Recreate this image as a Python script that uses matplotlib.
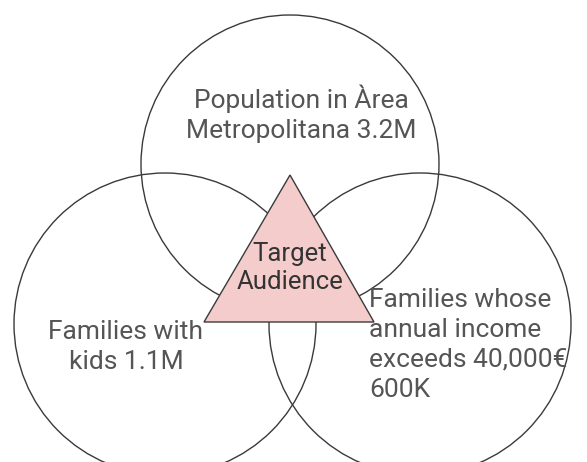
import matplotlib.pyplot as plt
from matplotlib.patches import Circle, Polygon

# labels of the three groups and the overlap
group_labels = [
    "Population in Àrea\nMetropolitana 3.2M",
    "Families with\nkids 1.1M",
    "Families whose\nannual income\nexceeds 40,000€\n600K",
]
center_label = "Target\nAudience"

# layout in pixel coords (y goes down)
circle_centers = [(290, 164), (165, 324), (420, 324)]
circle_radius = [149, 151, 151]
label_pos = [(301, 114), (126, 347), (369, 345)]
label_ha = ["center", "center", "left"]

plt.rcParams['font.family'] = ['Roboto', 'DejaVu Sans']

fig = plt.figure(figsize=(5.87, 4.62), dpi=100)
ax = fig.add_axes([0, 0, 1, 1])
ax.set_xlim(0, 587)
ax.set_ylim(462, 0)
ax.axis('off')

for (cx, cy), r in zip(circle_centers, circle_radius):
    ax.add_patch(Circle((cx, cy), r, fill=False, ec='#3a3a3a', lw=1.0))

tri = Polygon([(204, 322), (374, 322), (290, 175)], closed=True,
              fc='#f4cccc', ec='#3a3a3a', lw=1.0, zorder=3)
ax.add_patch(tri)

for txt, (x, y), ha in zip(group_labels, label_pos, label_ha):
    ax.text(x, y, txt, ha=ha, va='center', fontsize=19, color='#555555',
            linespacing=1.3, zorder=4)

ax.text(290, 268, center_label, ha='center', va='center', fontsize=18.5,
        color='#333333', linespacing=1.2, zorder=4)

fig.savefig('out.png', dpi=100)
